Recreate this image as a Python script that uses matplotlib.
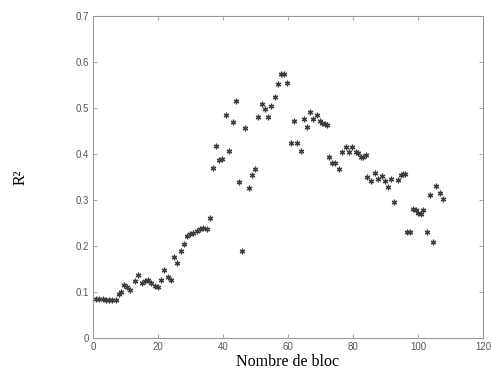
import matplotlib
matplotlib.use("Agg")
import matplotlib.pyplot as plt

# Data
blocs = [1, 2, 3, 4, 5, 6, 7, 7.9, 8.7, 9.5, 10.5, 11.5, 13, 14, 15, 16, 17, 18, 19, 20,
         21, 22, 23, 24, 25, 26, 27, 28, 28.9, 29.9, 30.9, 31.9, 32.9, 33.9, 35, 36,
         36.8, 37.8, 38.9, 39.6, 40.9, 42, 43, 43.9, 44.8, 45.8, 46.9, 47.9, 48.8, 49.9,
         50.9, 51.9, 53, 53.9, 54.9, 55.9, 56.8, 58, 58.7, 59.8, 60.9, 61.8, 62.8, 63.9,
         64.8, 65.8, 66.8, 67.8, 68.8, 69.8, 70.6, 71.4, 72.1, 72.7, 73.6, 74.5, 75.8,
         76.7, 77.8, 78.8, 79.8, 80.9, 81.6, 82.5, 83.2, 84.0, 84.4, 85.5, 86.8, 87.8,
         88.8, 89.8, 90.7, 91.7, 92.7, 93.8, 94.8, 95.5, 96.1, 96.7, 97.5, 98.6, 99.4,
         100.1, 100.8, 101.6, 102.7, 103.7, 104.7, 105.5, 106.8, 107.8]
r2 = [0.084, 0.084, 0.085, 0.083, 0.082, 0.082, 0.082, 0.095, 0.101, 0.116, 0.111, 0.104,
      0.123, 0.136, 0.120, 0.123, 0.125, 0.119, 0.112, 0.110, 0.126, 0.148, 0.132, 0.127,
      0.177, 0.163, 0.190, 0.204, 0.222, 0.225, 0.229, 0.233, 0.236, 0.238, 0.236, 0.261,
      0.369, 0.417, 0.387, 0.388, 0.485, 0.407, 0.469, 0.514, 0.339, 0.190, 0.456, 0.326,
      0.354, 0.367, 0.479, 0.509, 0.497, 0.480, 0.503, 0.524, 0.551, 0.573, 0.573, 0.554,
      0.424, 0.472, 0.424, 0.407, 0.475, 0.459, 0.490, 0.475, 0.485, 0.472, 0.468, 0.465,
      0.462, 0.394, 0.380, 0.380, 0.367, 0.403, 0.415, 0.405, 0.415, 0.403, 0.401, 0.394,
      0.394, 0.398, 0.349, 0.342, 0.358, 0.346, 0.352, 0.342, 0.329, 0.346, 0.295, 0.343,
      0.354, 0.356, 0.356, 0.231, 0.231, 0.280, 0.277, 0.272, 0.269, 0.277, 0.231, 0.311,
      0.208, 0.330, 0.314, 0.302]

xticks = [0, 20, 40, 60, 80, 100, 120]
yticks = [0, 0.1, 0.2, 0.3, 0.4, 0.5, 0.6, 0.7]
yticklabels = ["0", "0.1", "0.2", "0.3", "0.4", "0.5", "0.6", "0.7"]

fig = plt.figure(figsize=(4.91, 3.73), dpi=100)
ax = fig.add_axes([0.1894, 0.0938, 0.7943, 0.8642])

ax.plot(blocs, r2, linestyle="none", marker=(6, 2, 0), markersize=4,
        color="#3c3c3c", markeredgewidth=0.9)

ax.set_xlim(0, 120)
ax.set_ylim(0, 0.7)
ax.set_xticks(xticks)
ax.set_xticklabels([str(t) for t in xticks])
ax.set_yticks(yticks)
ax.set_yticklabels(yticklabels)

for s in ax.spines.values():
    s.set_color("#9a9a9a")
    s.set_linewidth(0.8)
ax.tick_params(direction="in", length=3, width=0.6, color="#9a9a9a",
               labelsize=7, labelcolor="#555555", top=True, right=True,
               labelfontfamily="Liberation Sans")
ax.tick_params(axis="x", pad=3)
ax.tick_params(axis="y", pad=3)

ax.set_xlabel("Nombre de bloc", family="Liberation Serif", fontsize=11.5, labelpad=1)
ax.set_ylabel("R²", family="Liberation Serif", fontsize=11.5, labelpad=34)

fig.savefig("out.png", dpi=100)
